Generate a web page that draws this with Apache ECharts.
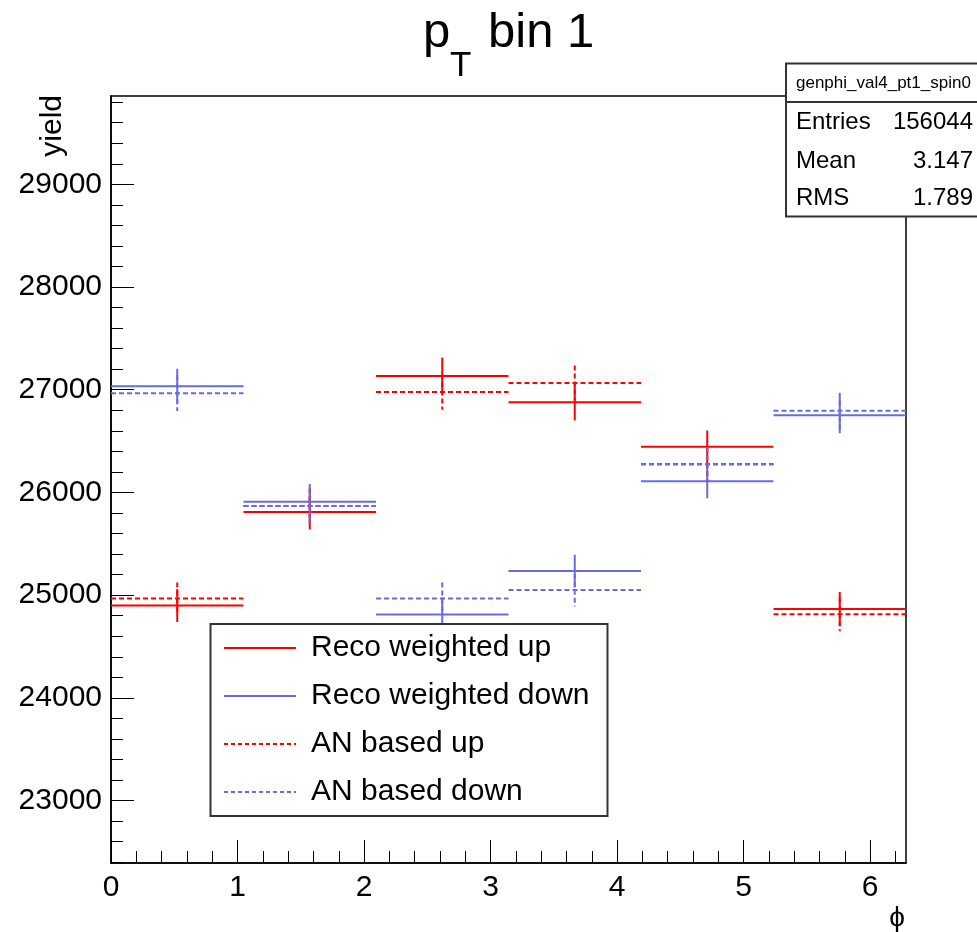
<!DOCTYPE html>
<html>
<head>
<meta charset="utf-8">
<script src="https://cdn.jsdelivr.net/npm/echarts@6/dist/echarts.min.js"></script>
<style>
html,body{margin:0;padding:0;background:#fff;}
#chart{width:977px;height:932px;}
</style>
</head>
<body>
<div id="chart"></div>
<script>
// ---- data ----
const binEdges = [0, 1.0472, 2.0944, 3.1416, 4.1888, 5.2360, 6.2832];
const recoUp      = [24899, 25810, 27133, 26879, 26444, 24866];
const recoUpErr   = [160, 170, 179, 178, 159, 165];
const recoDown    = [27035, 25910, 24811, 25234, 26108, 26752];
const recoDownErr = [169, 172, 165, 159, 165, 175];
const anUp        = [24967, 25868, 26977, 27065, 26274, 24814];
const anUpErr     = [156, 170, 171, 172, 165, 165];
const anDown      = [26967, 25868, 24967, 25049, 26274, 26795];
const anDownErr   = [175, 170, 156, 160, 165, 175];
const xMajorTicks = [0, 1, 2, 3, 4, 5, 6];
const xMinorTicks = [0.2,0.4,0.6,0.8,1.2,1.4,1.6,1.8,2.2,2.4,2.6,2.8,3.2,3.4,3.6,3.8,4.2,4.4,4.6,4.8,5.2,5.4,5.6,5.8,6.2];
const yMajorTicks = [23000, 24000, 25000, 26000, 27000, 28000, 29000];
const yMinorTicks = [22400,22600,22800,23200,23400,23600,23800,24200,24400,24600,24800,25200,25400,25600,25800,26200,26400,26600,26800,27200,27400,27600,27800,28200,28400,28600,28800,29200,29400,29600,29800];
const seriesNames = ['Reco weighted up', 'Reco weighted down', 'AN based up', 'AN based down'];
const statsTitle = 'genphi_val4_pt1_spin0';
const statsLabels = ['Entries', 'Mean', 'RMS'];
const statsValues = ['156044', '3.147', '1.789'];

const RED = '#ff0000';
const BLUE = '#6a6ae6';
const FONT = 'Liberation Sans, Arial, Helvetica, sans-serif';

function toData(vals, errs) {
  return vals.map((v, i) => [binEdges[i], binEdges[i + 1], v, errs[i]]);
}

function makeSeries(name, vals, errs, color, dashed) {
  return {
    type: 'custom',
    name: name,
    xAxisIndex: 0,
    yAxisIndex: 0,
    clip: true,
    encode: { x: [0, 1], y: [2] },
    data: toData(vals, errs),
    renderItem: function (params, api) {
      const lo = api.value(0), hi = api.value(1), v = api.value(2), e = api.value(3);
      const p1 = api.coord([lo, v]);
      const p2 = api.coord([hi, v]);
      const mid = (lo + hi) / 2;
      const t = api.coord([mid, v + e]);
      const b = api.coord([mid, v - e]);
      const style = { stroke: color, lineWidth: 2, lineDash: dashed ? [5, 3] : null };
      return {
        type: 'group',
        children: [
          { type: 'line', shape: { x1: p1[0], y1: p1[1], x2: p2[0], y2: p2[1] }, style: style },
          { type: 'line', shape: { x1: t[0], y1: t[1], x2: b[0], y2: b[1] }, style: style }
        ]
      };
    }
  };
}

const chart = echarts.init(document.getElementById('chart'), null, { renderer: 'canvas' });

const gridL = 111, gridT = 96, gridR = 71, gridB = 69;
const labelFont = 30;

const legendRows = [
  { name: seriesNames[0], color: RED, dash: null },
  { name: seriesNames[1], color: BLUE, dash: null },
  { name: seriesNames[2], color: RED, dash: [4, 3] },
  { name: seriesNames[3], color: BLUE, dash: [4, 3] }
];
const legendRowY = [648, 696, 744, 792];

const graphics = [];
// title
graphics.push({ type: 'text', x: 423, y: 33, style: { text: 'p', font: '49px ' + FONT, fill: '#000', verticalAlign: 'middle' } });
graphics.push({ type: 'text', x: 450, y: 66, style: { text: 'T', font: '35px ' + FONT, fill: '#000', verticalAlign: 'middle' } });
graphics.push({ type: 'text', x: 488, y: 33, style: { text: 'bin 1', font: '49px ' + FONT, fill: '#000', verticalAlign: 'middle' } });
// axis titles
graphics.push({ type: 'text', x: 53, y: 95, rotation: Math.PI / 2, style: { text: 'yield', font: labelFont + 'px ' + FONT, fill: '#000', align: 'right', verticalAlign: 'middle' } });
graphics.push({ type: 'text', x: 897, y: 918, style: { text: 'ϕ', font: '28px ' + FONT, fill: '#000', align: 'center', verticalAlign: 'middle' } });
// legend
graphics.push({ type: 'rect', z: 10, shape: { x: 210.5, y: 624, width: 397, height: 192 }, style: { fill: '#fff', stroke: '#333', lineWidth: 2 } });
legendRows.forEach((r, i) => {
  graphics.push({ type: 'line', z: 11, shape: { x1: 224, y1: legendRowY[i], x2: 296, y2: legendRowY[i] }, style: { stroke: r.color, lineWidth: 2, lineDash: r.dash } });
  graphics.push({ type: 'text', z: 11, x: 311, y: legendRowY[i], style: { text: r.name, font: '30px ' + FONT, fill: '#000', verticalAlign: 'middle' } });
});
// stats box
graphics.push({ type: 'rect', z: 10, shape: { x: 786, y: 63.5, width: 200, height: 153 }, style: { fill: '#fff', stroke: '#333', lineWidth: 2 } });
graphics.push({ type: 'line', z: 11, shape: { x1: 786, y1: 102, x2: 977, y2: 102 }, style: { stroke: '#333', lineWidth: 2 } });
graphics.push({ type: 'text', z: 11, x: 796, y: 83, style: { text: statsTitle, font: '17px ' + FONT, fill: '#000', verticalAlign: 'middle' } });
const statsY = [122, 161, 198];
statsLabels.forEach((lab, i) => {
  graphics.push({ type: 'text', z: 11, x: 796, y: statsY[i], style: { text: lab, font: '24px ' + FONT, fill: '#000', verticalAlign: 'middle' } });
  graphics.push({ type: 'text', z: 11, x: 973, y: statsY[i], style: { text: statsValues[i], font: '24px ' + FONT, fill: '#000', align: 'right', verticalAlign: 'middle' } });
});

const option = {
  animation: false,
  backgroundColor: '#fff',
  grid: { left: gridL, top: gridT, right: gridR, bottom: gridB, show: true, borderColor: '#000', borderWidth: 1.5, backgroundColor: 'transparent' },
  xAxis: [
    {
      type: 'value', min: 0, max: 6.2832, position: 'bottom',
      axisLine: { show: true, lineStyle: { color: '#000', width: 1.5 } },
      axisTick: { show: true, inside: true, length: 23, customValues: xMajorTicks, lineStyle: { color: '#000', width: 1 } },
      axisLabel: { show: true, customValues: xMajorTicks, margin: 10, fontSize: labelFont, fontFamily: FONT, color: '#000', formatter: v => String(v) },
      splitLine: { show: false }
    },
    {
      type: 'value', min: 0, max: 6.2832, position: 'bottom',
      axisLine: { show: false },
      axisTick: { show: true, inside: true, length: 12, customValues: xMinorTicks, lineStyle: { color: '#000', width: 1 } },
      axisLabel: { show: false },
      splitLine: { show: false }
    }
  ],
  yAxis: [
    {
      type: 'value', min: 22392, max: 29860, position: 'left',
      axisLine: { show: true, lineStyle: { color: '#000', width: 1.5 } },
      axisTick: { show: true, inside: true, length: 23, customValues: yMajorTicks, lineStyle: { color: '#000', width: 1 } },
      axisLabel: { show: true, customValues: yMajorTicks, margin: 9, fontSize: labelFont, fontFamily: FONT, color: '#000', formatter: v => String(v) },
      splitLine: { show: false }
    },
    {
      type: 'value', min: 22392, max: 29860, position: 'left',
      axisLine: { show: false },
      axisTick: { show: true, inside: true, length: 12, customValues: yMinorTicks, lineStyle: { color: '#000', width: 1 } },
      axisLabel: { show: false },
      splitLine: { show: false }
    }
  ],
  series: [
    makeSeries(seriesNames[0], recoUp, recoUpErr, RED, false),
    makeSeries(seriesNames[1], recoDown, recoDownErr, BLUE, false),
    makeSeries(seriesNames[2], anUp, anUpErr, RED, true),
    makeSeries(seriesNames[3], anDown, anDownErr, BLUE, true)
  ],
  graphic: graphics
};

chart.setOption(option);
</script>
</body>
</html>
